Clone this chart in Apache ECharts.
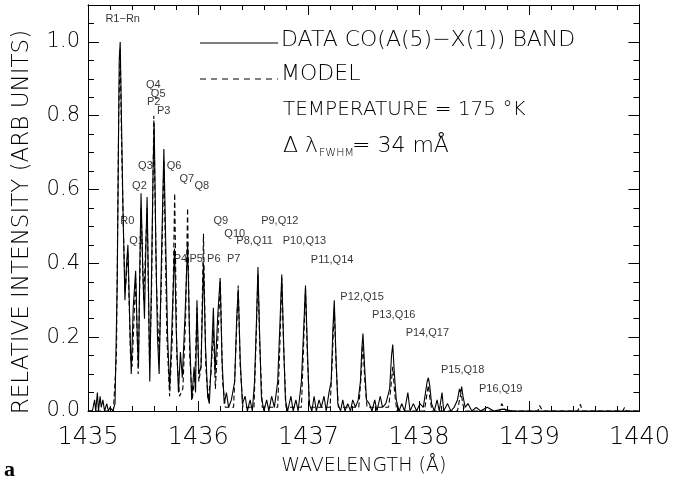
<!DOCTYPE html>
<html><head><meta charset="utf-8">
<script src="https://cdn.jsdelivr.net/npm/echarts@6/dist/echarts.min.js"></script>
<style>html,body{margin:0;padding:0;background:#fff}#c{width:673px;height:483px}</style>
</head><body><div id="c"></div>
<script>
// Observed spectrum (wavelength Å, relative intensity)
const dataSpectrum = [
[1435.000,0.00],[1435.040,0.00],[1435.060,0.03],[1435.070,0.00],[1435.085,0.05],[1435.095,0.00],[1435.110,0.04],[1435.120,0.01],[1435.135,0.03],[1435.150,0.00],[1435.170,0.02],[1435.185,0.00],[1435.200,0.01],[1435.225,0.00],[1435.245,0.02],[1435.265,0.35],[1435.283,0.95],[1435.292,1.00],[1435.303,0.80],[1435.317,0.55],[1435.335,0.30],[1435.350,0.40],[1435.362,0.45],[1435.378,0.25],[1435.392,0.10],[1435.410,0.28],[1435.432,0.38],[1435.447,0.20],[1435.458,0.12],[1435.470,0.40],[1435.481,0.59],[1435.497,0.38],[1435.512,0.25],[1435.525,0.45],[1435.536,0.58],[1435.550,0.30],[1435.560,0.08],[1435.575,0.35],[1435.590,0.65],[1435.600,0.78],[1435.615,0.45],[1435.630,0.20],[1435.645,0.10],[1435.665,0.40],[1435.688,0.71],[1435.705,0.45],[1435.722,0.20],[1435.740,0.06],[1435.760,0.22],[1435.785,0.44],[1435.800,0.22],[1435.820,0.05],[1435.838,0.16],[1435.855,0.09],[1435.880,0.26],[1435.903,0.45],[1435.920,0.22],[1435.940,0.03],[1435.962,0.12],[1435.975,0.05],[1435.988,0.30],[1436.005,0.10],[1436.025,0.12],[1436.047,0.40],[1436.065,0.18],[1436.085,0.04],[1436.100,0.02],[1436.120,0.15],[1436.137,0.28],[1436.152,0.10],[1436.175,0.25],[1436.198,0.36],[1436.215,0.14],[1436.235,0.02],[1436.255,0.05],[1436.275,0.01],[1436.300,0.03],[1436.330,0.08],[1436.348,0.25],[1436.362,0.33],[1436.380,0.14],[1436.400,0.02],[1436.425,0.04],[1436.445,0.00],[1436.470,0.03],[1436.490,0.00],[1436.510,0.08],[1436.528,0.25],[1436.541,0.39],[1436.555,0.22],[1436.572,0.04],[1436.595,0.00],[1436.620,0.03],[1436.640,0.00],[1436.665,0.04],[1436.690,0.01],[1436.720,0.08],[1436.742,0.25],[1436.757,0.37],[1436.772,0.20],[1436.790,0.03],[1436.810,0.00],[1436.840,0.04],[1436.860,0.00],[1436.885,0.03],[1436.905,0.00],[1436.935,0.08],[1436.958,0.24],[1436.972,0.34],[1436.988,0.18],[1437.005,0.02],[1437.030,0.00],[1437.050,0.04],[1437.070,0.00],[1437.095,0.03],[1437.115,0.01],[1437.140,0.04],[1437.160,0.00],[1437.185,0.05],[1437.205,0.08],[1437.220,0.22],[1437.233,0.30],[1437.248,0.15],[1437.265,0.02],[1437.290,0.00],[1437.310,0.03],[1437.330,0.00],[1437.355,0.02],[1437.380,0.00],[1437.400,0.03],[1437.425,0.01],[1437.450,0.03],[1437.470,0.08],[1437.483,0.17],[1437.493,0.21],[1437.508,0.12],[1437.525,0.03],[1437.550,0.02],[1437.575,0.00],[1437.600,0.03],[1437.620,0.00],[1437.650,0.04],[1437.670,0.01],[1437.700,0.02],[1437.735,0.06],[1437.752,0.15],[1437.763,0.18],[1437.778,0.10],[1437.795,0.03],[1437.820,0.00],[1437.845,0.02],[1437.870,0.00],[1437.900,0.05],[1437.920,0.00],[1437.950,0.02],[1437.980,0.00],[1438.010,0.02],[1438.040,0.01],[1438.060,0.05],[1438.075,0.08],[1438.086,0.09],[1438.098,0.07],[1438.115,0.02],[1438.140,0.00],[1438.165,0.03],[1438.185,0.00],[1438.210,0.05],[1438.225,0.00],[1438.260,0.02],[1438.290,0.00],[1438.320,0.01],[1438.350,0.03],[1438.368,0.06],[1438.378,0.05],[1438.388,0.066],[1438.400,0.04],[1438.420,0.01],[1438.445,0.02],[1438.480,0.00],[1438.520,0.01],[1438.560,0.00],[1438.620,0.01],[1438.680,0.00],[1438.760,0.005],[1438.850,0.00],[1440.000,0.00]
];
// Synthetic model spectrum
const modelSpectrum = [
[1435.000,0.00],[1435.230,0.00],[1435.258,0.15],[1435.278,0.80],[1435.292,0.98],[1435.303,0.75],[1435.320,0.50],[1435.337,0.32],[1435.362,0.43],[1435.385,0.15],[1435.400,0.12],[1435.432,0.36],[1435.455,0.10],[1435.481,0.55],[1435.505,0.30],[1435.520,0.30],[1435.536,0.55],[1435.558,0.12],[1435.575,0.30],[1435.597,0.80],[1435.620,0.35],[1435.645,0.15],[1435.665,0.35],[1435.688,0.68],[1435.715,0.20],[1435.740,0.04],[1435.765,0.20],[1435.786,0.59],[1435.805,0.15],[1435.830,0.04],[1435.860,0.06],[1435.885,0.25],[1435.903,0.55],[1435.922,0.15],[1435.945,0.03],[1435.970,0.10],[1435.988,0.28],[1436.005,0.08],[1436.025,0.12],[1436.047,0.48],[1436.068,0.12],[1436.090,0.03],[1436.115,0.10],[1436.137,0.22],[1436.155,0.06],[1436.178,0.20],[1436.200,0.35],[1436.220,0.08],[1436.245,0.01],[1436.320,0.01],[1436.345,0.20],[1436.362,0.34],[1436.380,0.12],[1436.405,0.01],[1436.505,0.01],[1436.525,0.20],[1436.541,0.37],[1436.557,0.18],[1436.580,0.01],[1436.720,0.01],[1436.740,0.18],[1436.757,0.36],[1436.775,0.16],[1436.795,0.01],[1436.935,0.01],[1436.955,0.18],[1436.972,0.33],[1436.990,0.14],[1437.010,0.01],[1437.195,0.01],[1437.215,0.14],[1437.233,0.28],[1437.250,0.12],[1437.270,0.01],[1437.455,0.01],[1437.475,0.09],[1437.493,0.18],[1437.510,0.08],[1437.530,0.01],[1437.725,0.01],[1437.745,0.06],[1437.763,0.12],[1437.780,0.05],[1437.800,0.00],[1438.050,0.00],[1438.070,0.04],[1438.086,0.07],[1438.102,0.03],[1438.120,0.00],[1438.350,0.00],[1438.368,0.03],[1438.383,0.05],[1438.398,0.02],[1438.415,0.00],[1438.735,0.00],[1438.750,0.02],[1438.760,0.025],[1438.772,0.01],[1438.790,0.00],[1439.080,0.00],[1439.095,0.015],[1439.105,0.02],[1439.120,0.00],[1439.440,0.00],[1439.455,0.012],[1439.465,0.018],[1439.480,0.00],[1439.850,0.00],[1439.865,0.01],[1439.880,0.00],[1440.000,0.00]
];
// Line identifications (label anchor: left edge, vertical centre)
const peakNames  = ['R1\u2212Rn','Q4','Q5','P2','P3','Q3','Q6','Q7','Q8','Q2','R0','Q1','Q9','Q10','P8,Q11','P9,Q12','P10,Q13','P11,Q14','P12,Q15','P13,Q16','P14,Q17','P15,Q18','P16,Q19','P4','P5','P6','P7'];
const peakLabelX = [1435.158,1435.526,1435.570,1435.535,1435.625,1435.454,1435.714,1435.830,1435.966,1435.400,1435.292,1435.373,1436.137,1436.236,1436.345,1436.570,1436.766,1437.020,1437.288,1437.575,1437.880,1438.200,1438.545,1435.777,1435.920,1436.080,1436.260];
const peakLabelY = [1.062,0.883,0.859,0.837,0.812,0.663,0.663,0.630,0.611,0.611,0.514,0.462,0.514,0.480,0.462,0.514,0.462,0.410,0.310,0.261,0.212,0.111,0.060,0.413,0.413,0.413,0.413];

const FONT = 'DejaVu Sans';
const chart = echarts.init(document.getElementById('c'), null, {renderer:'canvas'});
const black = '#000';
function xAx(pos, labels){
  return {type:'value', min:1435, max:1440, interval:1, position:pos,
    axisLine:{show:true, onZero:false, lineStyle:{color:black,width:1}},
    axisTick:{show:true, inside:true, length:10, lineStyle:{color:black,width:1}},
    minorTick:{show:true, splitNumber:5, length:5, lineStyle:{color:black,width:1}},
    splitLine:{show:false}, minorSplitLine:{show:false},
    axisLabel:{show:labels, fontSize:24, fontWeight:200, color:black, margin:15, fontFamily:FONT,
      formatter:v=>String(v)},
    name: labels ? 'WAVELENGTH (\u00C5)' : '', nameLocation:'middle', nameGap:46,
    nameTextStyle:{fontSize:19, fontWeight:200, color:black, fontFamily:FONT}};
}
function yAx(pos, step, len, labels){
  return {type:'value', min:0, max:1.1, interval:step, position:pos,
    axisLine:{show:true, onZero:false, lineStyle:{color:black,width:1}},
    axisTick:{show:true, inside:true, length:len, lineStyle:{color:black,width:1}},
    splitLine:{show:false},
    axisLabel:{show:labels, showMaxLabel:false, fontSize:21, fontWeight:200, color:black, margin:8, fontFamily:FONT,
      formatter:v=>v.toFixed(1)}};
}
const option = {
  animation:false,
  backgroundColor:'#fff',
  grid:{left:88, right:28, top:5, bottom:72, containLabel:false},
  xAxis:[xAx('bottom',true), xAx('top',false)],
  yAxis:[yAx('left',0.2,11,true), yAx('left',0.05,6,false), yAx('right',0.2,11,false), yAx('right',0.05,6,false)],
  series:[
    {type:'line', data:dataSpectrum, xAxisIndex:0, yAxisIndex:0, symbol:'none', showSymbol:false,
     lineStyle:{color:black, width:1.1}, z:3, clip:true},
    {type:'line', data:modelSpectrum, xAxisIndex:0, yAxisIndex:0, symbol:'none', showSymbol:false,
     lineStyle:{color:black, width:1.1, type:[5,3]}, z:2, clip:true},
    {type:'scatter', xAxisIndex:0, yAxisIndex:0, symbolSize:0, silent:true, z:5,
     data: peakNames.map((n,i)=>[peakLabelX[i], peakLabelY[i], n]),
     label:{show:true, position:'right', distance:0, formatter:p=>p.data[2], fontSize:11,
       color:black, fontFamily:'Liberation Sans', align:'left', verticalAlign:'middle'}}
  ],
  graphic:[
    {type:'text', x:22, y:222, rotation:Math.PI/2, style:{text:'RELATIVE INTENSITY (ARB UNITS)', fill:black, font:'200 23px "DejaVu Sans"', textAlign:'center', textVerticalAlign:'middle'}},
    {type:'line', shape:{x1:200,y1:43,x2:278,y2:43}, style:{stroke:black, lineWidth:1}},
    {type:'text', x:281, y:40, style:{text:'DATA CO(A(5)\u2212X(1)) BAND', fill:black, font:'200 22px "DejaVu Sans"', textVerticalAlign:'middle'}},
    {type:'text', x:281, y:74, style:{text:'MODEL', fill:black, font:'200 22px "DejaVu Sans"', textVerticalAlign:'middle'}},
    {type:'line', shape:{x1:200,y1:79,x2:278,y2:79}, style:{stroke:black, lineWidth:1, lineDash:[6,5]}},
    {type:'text', x:283, y:110, style:{text:'TEMPERATURE = 175 \u00B0K', fill:black, font:'200 20px "DejaVu Sans"', textVerticalAlign:'middle'}},
    {type:'text', x:283, y:146, style:{text:'\u0394 \u03BB', fill:black, font:'200 22px "DejaVu Sans"', textVerticalAlign:'middle'}},
    {type:'text', x:319, y:153, style:{text:'FWHM', fill:black, font:'200 11px "DejaVu Sans"', textVerticalAlign:'middle'}},
    {type:'text', x:352, y:146, style:{text:'= 34 m\u00C5', fill:black, font:'200 22px "DejaVu Sans"', textVerticalAlign:'middle'}},
    {type:'text', x:4, y:470, style:{text:'a', fill:black, font:'bold 22px "Liberation Serif"', textVerticalAlign:'middle'}}
  ]
};
chart.setOption(option);
</script></body></html>
